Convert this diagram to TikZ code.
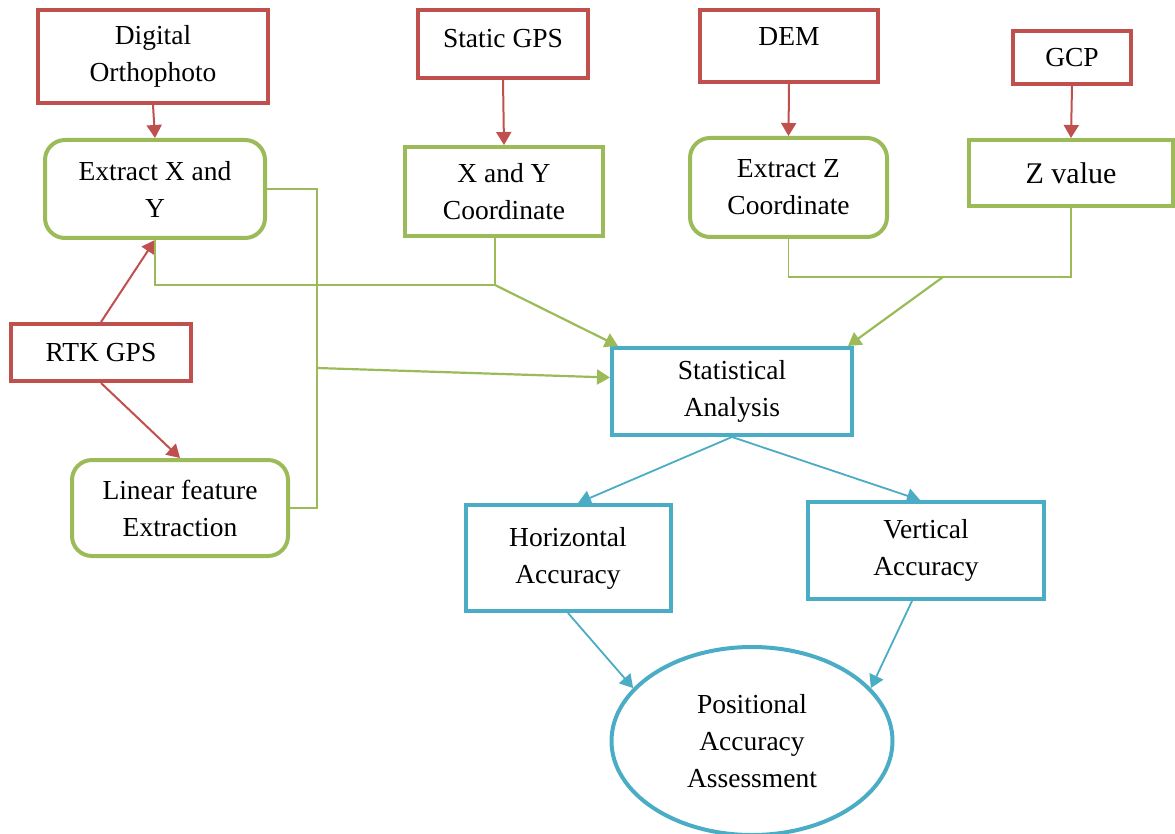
\documentclass[tikz,border=0pt]{standalone}
\usepackage{fontspec}
\setmainfont{Liberation Serif}
\usetikzlibrary{arrows.meta, positioning, calc, shapes.geometric}
\definecolor{ored}{HTML}{C0504D}
\definecolor{ogreen}{HTML}{9BBB59}
\definecolor{oblue}{HTML}{4BACC6}
\tikzset{
  flowbox/.style={draw, line width=4pt, align=center, inner sep=2pt, font=\fontsize{27.5}{37}\selectfont},
  redbox/.style={flowbox, draw=ored},
  greenbox/.style={flowbox, draw=ogreen},
  greenround/.style={greenbox, rounded corners=20pt},
  bluebox/.style={flowbox, draw=oblue},
  arrowtip/.style={-{Triangle[length=13pt,width=15pt]}},
  redarrow/.style={arrowtip, draw=ored, line width=2pt},
  greenline/.style={draw=ogreen, line width=1.3pt},
  greenarrow/.style={arrowtip, draw=ogreen, line width=2.2pt},
  bluearrow/.style={arrowtip, draw=oblue, line width=1.8pt},
}
\begin{document}
\begin{tikzpicture}[x=1pt, y=-1pt]
\useasboundingbox (0,0) rectangle (1175,834);
% data sources
\node[redbox, minimum width=230pt, minimum height=93pt] (ortho) at (153,56.5) {Digital\\Orthophoto};
\node[redbox, minimum width=170pt, minimum height=68pt, text depth=12pt] (static) at (503,44) {Static GPS};
\node[redbox, minimum width=178pt, minimum height=72pt, text depth=18pt] (dem) at (789,46) {DEM};
\node[redbox, minimum width=118pt, minimum height=53pt] (gcp) at (1072,57.5) {GCP};
\node[redbox, minimum width=180pt, minimum height=57pt] (rtk) at (101,352.5) {RTK GPS};
% processing
\node[greenround, minimum width=220pt, minimum height=98pt] (exy) at (155,189) {Extract X and\\Y};
\node[greenbox, minimum width=198pt, minimum height=89pt] (xycoord) at (504,191.5) {X and Y\\Coordinate};
\node[greenround, minimum width=197pt, minimum height=99pt] (ez) at (788.5,187.5) {Extract Z\\Coordinate};
\node[greenbox, minimum width=204pt, minimum height=66pt, font=\fontsize{30}{37}\selectfont] (zval) at (1071,173) {Z value};
\node[greenround, minimum width=216pt, minimum height=96pt] (linear) at (180,508) {Linear feature\\Extraction};
% analysis
\node[bluebox, minimum width=240pt, minimum height=87pt] (stat) at (732,391.5) {Statistical\\Analysis};
\node[bluebox, minimum width=205pt, minimum height=106pt] (hacc) at (568,558) {Horizontal\\Accuracy};
\node[bluebox, minimum width=236pt, minimum height=97pt] (vacc) at (926,550.5) {Vertical\\Accuracy};
\node[flowbox, ellipse, draw=oblue, inner sep=0pt, minimum width=281pt, minimum height=188pt] (paa) at (752,741) {Positional\\Accuracy\\Assessment};
% red feeds
\draw[redarrow] (ortho.south) -- (exy.north);
\draw[redarrow] (static.south) -- (xycoord.north);
\draw[redarrow] (dem.south) -- (ez.north);
\draw[redarrow] (gcp.south) -- (zval.north);
\draw[redarrow] (rtk.north) -- (exy.south);
\draw[redarrow] (rtk.south) -- (linear.north);
% green joins
\coordinate (xyjoin) at (495,285);
\coordinate (zjoin) at (943,277);
\coordinate (linjoin) at (317,368);
\draw[greenline] (exy.south) |- (xyjoin);
\draw[greenline] (xyjoin) -- (xyjoin |- xycoord.south);
\draw[greenline] (exy.east) -| (linjoin) |- (linear.east);
\draw[greenline] (ez.south) |- (zjoin) -| (zval.south);
\draw[greenarrow] (xyjoin) -- ($(stat.north west)+(8,0)$);
\draw[greenarrow] (linjoin) -- ($(stat.west)+(0,-14)$);
\draw[greenarrow] (zjoin) -- ($(stat.north east)+(-6,0)$);
% blue outputs
\draw[bluearrow] (stat.south) -- ($(hacc.north)+(10,0)$);
\draw[bluearrow] (stat.south) -- ($(vacc.north)+(-6,0)$);
\draw[bluearrow] (hacc.south) -- (paa.156);
\draw[bluearrow] ($(vacc.south)+(-14,0)$) -- (paa.24);
\end{tikzpicture}
\end{document}
